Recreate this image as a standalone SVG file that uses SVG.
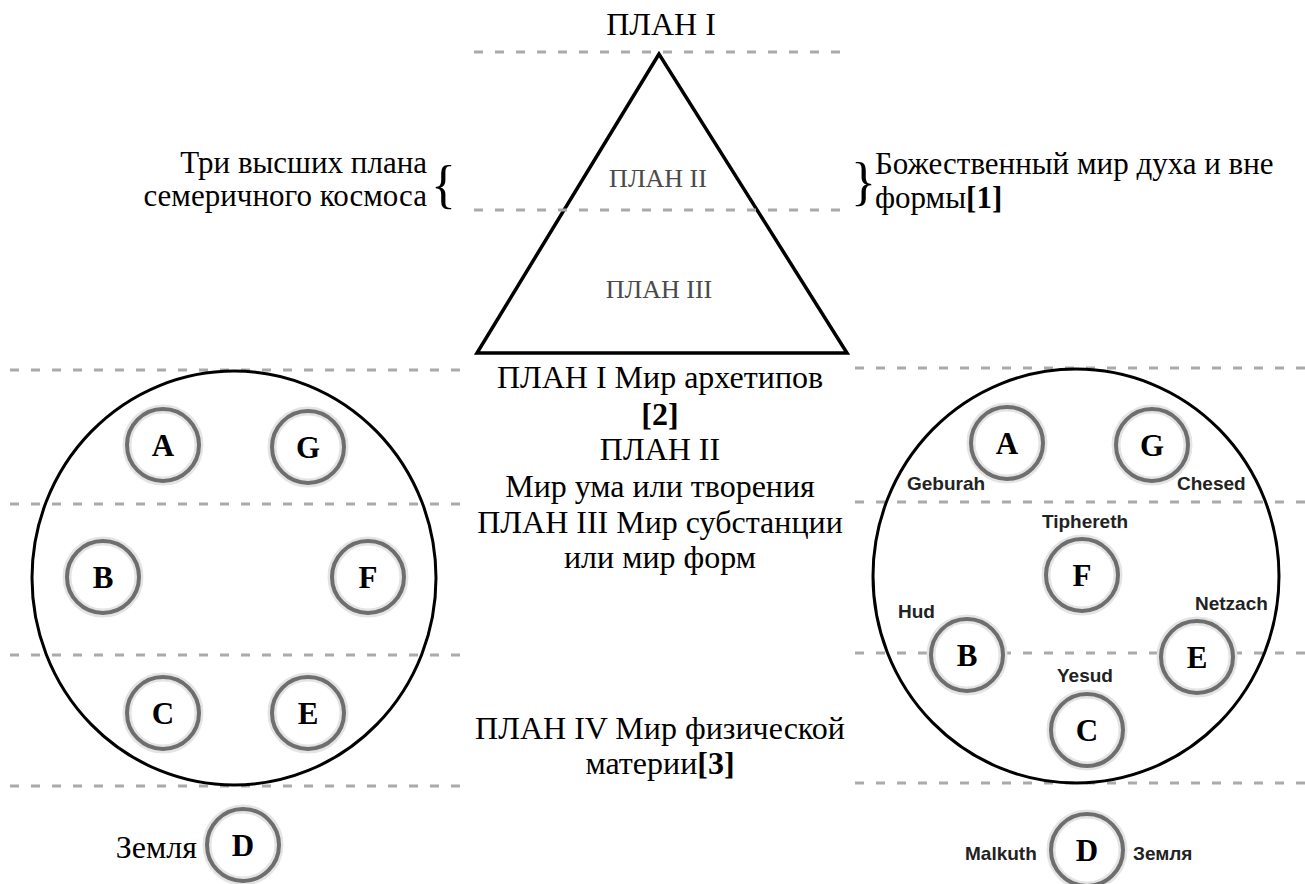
<svg xmlns="http://www.w3.org/2000/svg" width="1305" height="884" viewBox="0 0 1305 884">
<defs>
<style>
.plane{stroke:#aaaaaa;stroke-width:3;stroke-dasharray:9 12;fill:none}
.big{fill:none;stroke:#000;stroke-width:3}
.halo{fill:#fff;stroke:#e4e4e4;stroke-width:9}
.ring{fill:none;stroke:#6e6e6e;stroke-width:4}
.let{font-family:"Liberation Serif","Times New Roman",serif;font-weight:bold;font-size:31px;text-anchor:middle;fill:#000}
.t{font-family:"Liberation Serif","Times New Roman",serif;font-size:32px;fill:#000}
.s{font-size:31px}
.br{font-family:"Liberation Serif","Times New Roman",serif;font-size:52px;fill:#000}
.c{text-anchor:middle}
.g{font-family:"Liberation Serif","Times New Roman",serif;font-size:26px;fill:#4a4a4a;text-anchor:middle}
.lab{font-family:"Liberation Sans",Arial,sans-serif;font-weight:bold;font-size:19px;fill:#222}
</style>
<filter id="soft" x="-20%" y="-20%" width="140%" height="140%"><feGaussianBlur stdDeviation="0.6"/></filter>
</defs>
<rect width="1305" height="884" fill="#fff"/>
<g id="triangle">
<polygon points="659,54 477,353 847,353" fill="#fff" stroke="#000" stroke-width="3.5" stroke-linejoin="miter"/>
</g>
<g id="planes">
<line class="plane" x1="474" y1="52" x2="840" y2="52"/>
<line class="plane" x1="474" y1="210" x2="843" y2="210"/>
<line class="plane" x1="10" y1="370" x2="463" y2="370"/>
<line class="plane" x1="10" y1="504" x2="463" y2="504"/>
<line class="plane" x1="10" y1="655" x2="463" y2="655"/>
<line class="plane" x1="10" y1="786" x2="463" y2="786"/>
<line class="plane" x1="855" y1="368" x2="1305" y2="368"/>
<line class="plane" x1="855" y1="502" x2="1305" y2="502"/>
<line class="plane" x1="855" y1="653" x2="1305" y2="653"/>
<line class="plane" x1="855" y1="783" x2="1305" y2="783"/>
</g>
<g id="spheres">
<ellipse class="big" cx="234" cy="578" rx="202" ry="207"/>
<ellipse class="big" cx="1076" cy="576" rx="203" ry="207"/>
</g>
<g id="tri-labels">
<text class="g" x="658" y="187">ПЛАН II</text>
<text class="g" x="659" y="298">ПЛАН III</text>
</g>
<g id="texts">
<text class="t" x="661" y="35" text-anchor="middle">ПЛАН I</text>
<text class="t s" x="427" y="173" text-anchor="end">Три высших плана</text>
<text class="t s" x="427" y="206" text-anchor="end">семеричного космоса</text>
<text class="br" x="431" y="202">{</text>
<text class="br" x="851" y="199">}</text>
<text class="t s" x="875" y="174">Божественный мир духа и вне</text>
<text class="t s" x="875" y="208">формы<tspan font-weight="bold">[1]</tspan></text>
<text class="t c" x="660" y="388">ПЛАН I Мир архетипов</text>
<text class="t c" x="660" y="425" font-weight="bold">[2]</text>
<text class="t c" x="660" y="460">ПЛАН II</text>
<text class="t c" x="660" y="497">Мир ума или творения</text>
<text class="t c" x="660" y="533">ПЛАН III Мир субстанции</text>
<text class="t c" x="660" y="568">или мир форм</text>
<text class="t c" x="660" y="739">ПЛАН IV Мир физической</text>
<text class="t c" x="660" y="774">материи<tspan font-weight="bold">[3]</tspan></text>
<text class="t" x="197" y="858" text-anchor="end" fill="#222">Земля</text>
</g>
<g id="L-A"><circle class="halo" cx="163" cy="445" r="36"/><circle class="ring" cx="163" cy="445" r="36" filter="url(#soft)"/><text class="let" x="163" y="456">A</text></g>
<g id="L-G"><circle class="halo" cx="308" cy="447" r="36"/><circle class="ring" cx="308" cy="447" r="36" filter="url(#soft)"/><text class="let" x="308" y="458">G</text></g>
<g id="L-B"><circle class="halo" cx="103" cy="577" r="36"/><circle class="ring" cx="103" cy="577" r="36" filter="url(#soft)"/><text class="let" x="103" y="588">B</text></g>
<g id="L-F"><circle class="halo" cx="368" cy="577" r="36"/><circle class="ring" cx="368" cy="577" r="36" filter="url(#soft)"/><text class="let" x="368" y="588">F</text></g>
<g id="L-C"><circle class="halo" cx="163" cy="713" r="36"/><circle class="ring" cx="163" cy="713" r="36" filter="url(#soft)"/><text class="let" x="163" y="724">C</text></g>
<g id="L-E"><circle class="halo" cx="308" cy="713" r="36"/><circle class="ring" cx="308" cy="713" r="36" filter="url(#soft)"/><text class="let" x="308" y="724">E</text></g>
<g id="L-D"><circle class="halo" cx="243" cy="845" r="36"/><circle class="ring" cx="243" cy="845" r="36" filter="url(#soft)"/><text class="let" x="243" y="856">D</text></g>
<g id="R-A"><circle class="halo" cx="1007" cy="443" r="36"/><circle class="ring" cx="1007" cy="443" r="36" filter="url(#soft)"/><text class="let" x="1007" y="454">A</text><text class="lab" x="907" y="490">Geburah</text></g>
<g id="R-G"><circle class="halo" cx="1152" cy="445" r="36"/><circle class="ring" cx="1152" cy="445" r="36" filter="url(#soft)"/><text class="let" x="1152" y="456">G</text><text class="lab" x="1177" y="490">Chesed</text></g>
<g id="R-F"><circle class="halo" cx="1082" cy="575" r="36"/><circle class="ring" cx="1082" cy="575" r="36" filter="url(#soft)"/><text class="let" x="1082" y="586">F</text><text class="lab" x="1085" y="528" text-anchor="middle">Tiphereth</text></g>
<g id="R-B"><circle class="halo" cx="967" cy="655" r="36"/><circle class="ring" cx="967" cy="655" r="36" filter="url(#soft)"/><text class="let" x="967" y="666">B</text><text class="lab" x="898" y="618">Hud</text></g>
<g id="R-E"><circle class="halo" cx="1197" cy="657" r="36"/><circle class="ring" cx="1197" cy="657" r="36" filter="url(#soft)"/><text class="let" x="1197" y="668">E</text><text class="lab" x="1195" y="610">Netzach</text></g>
<g id="R-C"><circle class="halo" cx="1087" cy="730" r="36"/><circle class="ring" cx="1087" cy="730" r="36" filter="url(#soft)"/><text class="let" x="1087" y="741">C</text><text class="lab" x="1085" y="682" text-anchor="middle">Yesud</text></g>
<g id="R-D"><circle class="halo" cx="1087" cy="850" r="36"/><circle class="ring" cx="1087" cy="850" r="36" filter="url(#soft)"/><text class="let" x="1087" y="861">D</text><text class="lab" x="965" y="860">Malkuth</text><text class="lab" x="1133" y="860">Земля</text></g>
</svg>
